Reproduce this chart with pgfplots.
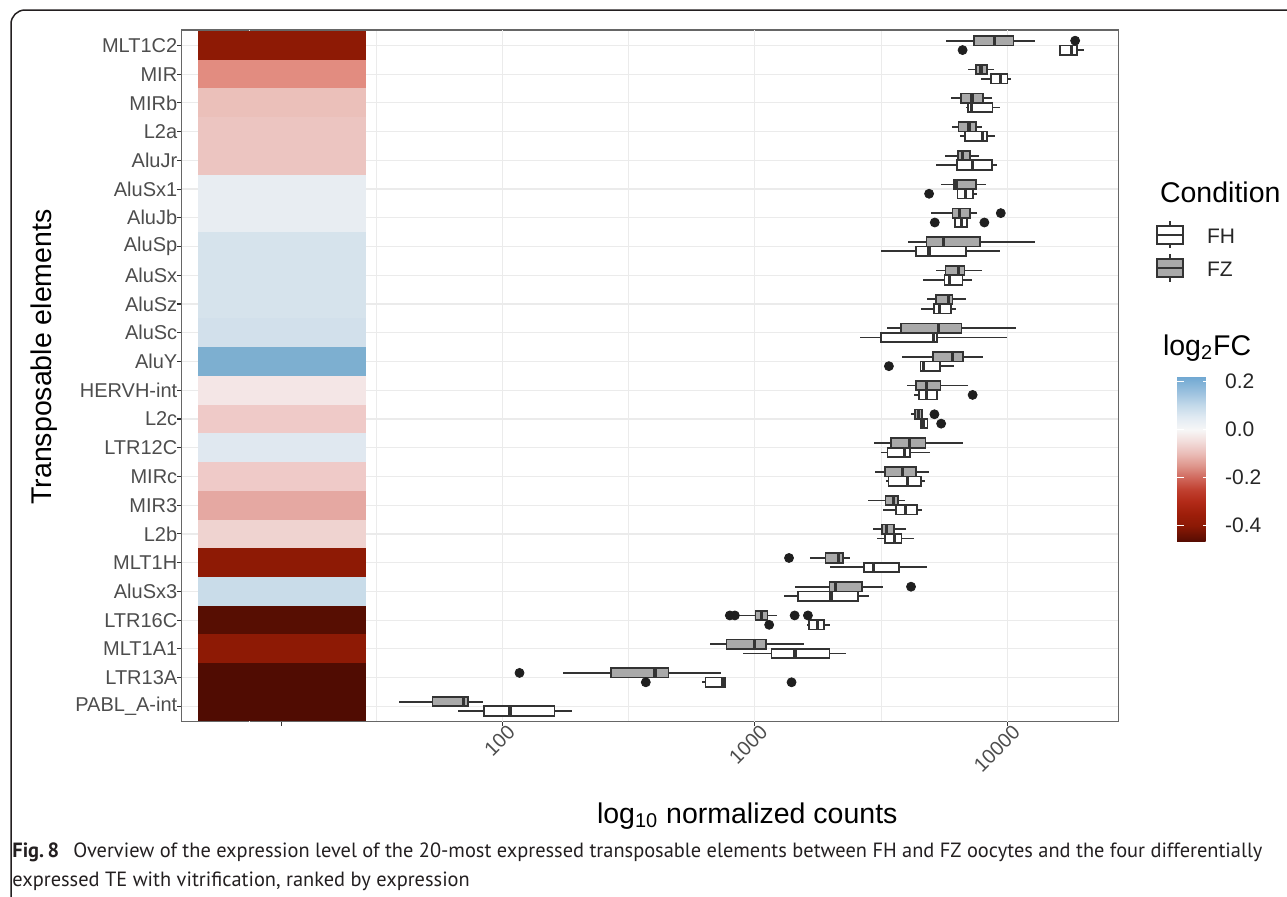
\documentclass[border=0pt]{standalone}
\usepackage{pgfplots}
\pgfplotsset{compat=1.18}
\usepgfplotslibrary{statistics}
\usepackage{fontspec}
\setmainfont{Liberation Sans}
\newfontfamily\capfont{PT Sans}
\definecolor{gridmaj}{HTML}{EBEBEB}
\definecolor{ticklab}{HTML}{4D4D4D}
\definecolor{boxline}{HTML}{333333}
\definecolor{boxfill}{HTML}{A9A9A9}
\definecolor{ptc}{HTML}{1F1F1F}
\definecolor{capc}{HTML}{231F20}
% heatmap tile colours (log2FC)
\definecolor{c01}{RGB}{80,12,2}
\definecolor{c02}{RGB}{80,12,2}
\definecolor{c03}{RGB}{142,26,5}
\definecolor{c04}{RGB}{87,14,2}
\definecolor{c05}{RGB}{201,220,233}
\definecolor{c06}{RGB}{142,26,5}
\definecolor{c07}{RGB}{239,211,208}
\definecolor{c08}{RGB}{229,168,162}
\definecolor{c09}{RGB}{239,202,200}
\definecolor{c10}{RGB}{224,232,240}
\definecolor{c11}{RGB}{239,202,200}
\definecolor{c12}{RGB}{244,230,230}
\definecolor{c13}{RGB}{125,175,208}
\definecolor{c14}{RGB}{210,224,235}
\definecolor{c15}{RGB}{214,227,236}
\definecolor{c16}{RGB}{214,227,236}
\definecolor{c17}{RGB}{214,227,236}
\definecolor{c18}{RGB}{232,237,242}
\definecolor{c19}{RGB}{232,237,242}
\definecolor{c20}{RGB}{236,197,193}
\definecolor{c21}{RGB}{236,197,193}
\definecolor{c22}{RGB}{235,192,186}
\definecolor{c23}{RGB}{226,140,128}
\definecolor{c24}{RGB}{142,26,5}
\newcommand{\tile}[3]{\addplot[draw=none, fill=#3] coordinates {(6.24,#1) (28.87,#1) (28.87,#2) (6.24,#2)};}
\newcommand{\bx}[7]{\addplot[boxplot prepared={draw position=#1, lower whisker=#2, lower quartile=#3, median=#4, upper quartile=#5, upper whisker=#6}, fill=#7, draw=boxline, line width=0.85pt, solid] coordinates {};}
\begin{document}
\begin{tikzpicture}[x=0.5pt,y=-0.5pt]
\path[use as bounding box] (0,0) rectangle (1287,896);
\draw[line width=0.75pt, color=capc, rounded corners=7pt] (11,905) -- (11,10) -- (1295,10);
\coordinate (axSW) at (181.7,721.7);
\coordinate (cbNW) at (1160,376.7);
\begin{axis}[
  at={(axSW)}, anchor=south west, scale only axis,
  width=468.3pt, height=345.85pt,
  xmode=log,
  xmin=5.381, xmax=27462, ymin=0.465, ymax=24.535,
  axis line style={draw=black!60, line width=0.6pt},
  xtick={13.4,100,1000,10000}, xticklabels={,100,1000,10000},
  minor xtick={31.62,316.2,3162},
  extra x ticks={10,100,1000,10000}, extra x tick labels={},
  extra x tick style={major tick length=0pt, grid=major},
  xmajorgrids=false, xminorgrids=true,
  ytick={1,...,24},
  yticklabels={PABL\_A-int,LTR13A,MLT1A1,LTR16C,AluSx3,MLT1H,L2b,MIR3,MIRc,LTR12C,L2c,HERVH-int,AluY,AluSc,AluSz,AluSx,AluSp,AluJb,AluSx1,AluJr,L2a,MIRb,MIR,MLT1C2},
  ymajorgrids=true,
  major grid style={gridmaj, line width=0.6pt},
  minor grid style={gridmaj, line width=0.35pt},
  tick align=outside, major tick length=2.2pt, minor tick length=0pt,
  tick style={boxline, line width=0.55pt},
  tick pos=left,
  ticklabel style={font=\fontsize{10}{12}\selectfont, text=ticklab},
  yticklabel style={xshift=3.5pt},
  xticklabel style={xshift=2pt, yshift=6pt, rotate=45, anchor=north east},
  boxplot/draw direction=x,
  boxplot/box extend=0.326,
  boxplot/whisker extend=0,
  boxplot/every median/.style={line width=1.6pt},
  point meta min=-0.467, point meta max=0.221,
  colormap={fc}{rgb255(0)=(85,12,2) rgb255(67)=(140,25,5) rgb255(117)=(158,30,10) rgb255(167)=(178,42,24) rgb255(217)=(192,64,48) rgb255(267)=(208,104,92) rgb255(317)=(222,150,140) rgb255(367)=(234,188,183) rgb255(417)=(242,220,218) rgb255(467)=(247,247,247) rgb255(517)=(226,235,243) rgb255(567)=(196,218,234) rgb255(617)=(160,196,224) rgb255(688)=(112,168,210)},
  colorbar,
  colorbar style={
    at={(cbNW)}, anchor=north west,
    scale only axis, width=16.5pt, height=82.5pt,
    ytick={-0.4,-0.2,0,0.2}, yticklabels={-0.4,-0.2,0.0,0.2},
    yticklabel pos=right,
    axis line style={draw=none},
    tick align=inside, major tick length=3.3pt,
    tick style={white, line width=0.5pt},
    yticklabel style={font=\fontsize{10.5}{12}\selectfont, text=black!85, xshift=4pt},
  },
]
% heatmap column (log2FC tiles)
\tile{0.5}{1.5}{c01}
\tile{1.5}{2.5}{c02}
\tile{2.5}{3.5}{c03}
\tile{3.5}{4.5}{c04}
\tile{4.5}{5.5}{c05}
\tile{5.5}{6.5}{c06}
\tile{6.5}{7.5}{c07}
\tile{7.5}{8.5}{c08}
\tile{8.5}{9.5}{c09}
\tile{9.5}{10.5}{c10}
\tile{10.5}{11.5}{c11}
\tile{11.5}{12.5}{c12}
\tile{12.5}{13.5}{c13}
\tile{13.5}{14.5}{c14}
\tile{14.5}{15.5}{c15}
\tile{15.5}{16.5}{c16}
\tile{16.5}{17.5}{c17}
\tile{17.5}{18.5}{c18}
\tile{18.5}{19.5}{c19}
\tile{19.5}{20.5}{c20}
\tile{20.5}{21.5}{c21}
\tile{21.5}{22.5}{c22}
\tile{22.5}{23.5}{c23}
\tile{23.5}{24.5}{c24}
% boxplots: FZ (grey, above), FH (white, below)
\bx{24.163}{5735}{7391}{8878}{10566}{12805}{boxfill}
\bx{23.837}{16006}{16150}{17865}{18876}{20127}{white}
\bx{23.163}{6997}{7482}{7857}{8275}{8878}{boxfill}
\bx{22.837}{7857}{8584}{9350}{10000}{10342}{white}
\bx{22.163}{5969}{6561}{7235}{7979}{8717}{boxfill}
\bx{21.837}{6846}{6997}{7213}{8717}{9378}{white}
\bx{21.163}{6025}{6403}{7040}{7505}{7929}{boxfill}
\bx{20.837}{6481}{6806}{7979}{8302}{8906}{white}
\bx{20.163}{5682}{6383}{6643}{7103}{7738}{boxfill}
\bx{19.837}{5202}{6326}{7279}{8663}{9125}{white}
\bx{19.163}{5463}{6153}{6286}{7505}{8225}{boxfill}
\bx{18.837}{6300}{6345}{6827}{7323}{7551}{white}
\bx{18.163}{5000}{6060}{6461}{7103}{7597}{boxfill}
\bx{17.837}{6211}{6211}{6561}{6910}{6910}{white}
\bx{17.163}{4037}{4775}{5598}{7761}{12884}{boxfill}
\bx{16.837}{3162}{4330}{4894}{6869}{9350}{white}
\bx{16.163}{5234}{5682}{6403}{6764}{7929}{boxfill}
\bx{15.837}{4633}{5631}{5878}{6643}{7213}{white}
\bx{15.163}{4820}{5218}{5825}{6060}{6827}{boxfill}
\bx{14.837}{4535}{5123}{5397}{5987}{6248}{white}
\bx{14.163}{3331}{3798}{5315}{6581}{10760}{boxfill}
\bx{13.837}{2601}{3153}{5077}{5251}{9938}{white}
\bx{13.163}{3822}{5061}{6060}{6664}{7979}{boxfill}
\bx{12.837}{4521}{4521}{4661}{5413}{6115}{white}
\bx{12.163}{4012}{4357}{4775}{5429}{6997}{boxfill}
\bx{11.837}{4266}{4465}{4775}{5266}{5266}{white}
\bx{11.163}{4138}{4305}{4451}{4589}{4589}{boxfill}
\bx{10.837}{4535}{4549}{4661}{4820}{4820}{white}
\bx{10.163}{2966}{3455}{4100}{4733}{6664}{boxfill}
\bx{9.837}{3143}{3352}{3916}{4100}{4939}{white}
\bx{9.163}{2993}{3280}{3833}{4330}{4894}{boxfill}
\bx{8.837}{3300}{3382}{4012}{4535}{4704}{white}
\bx{8.163}{2815}{3290}{3551}{3695}{3928}{boxfill}
\bx{7.837}{3221}{3628}{3953}{4384}{4575}{white}
\bx{7.163}{2930}{3182}{3331}{3562}{3977}{boxfill}
\bx{6.837}{3040}{3280}{3573}{3810}{4252}{white}
\bx{6.163}{1651}{1905}{2146}{2226}{2381}{boxfill}
\bx{5.837}{1988}{2698}{2948}{3718}{4805}{white}
\bx{5.163}{1441}{1974}{2084}{2654}{3211}{boxfill}
\bx{4.837}{1305}{1481}{2003}{2559}{2819}{white}
\bx{4.163}{859}{1006}{1062}{1121}{1221}{boxfill}
\bx{3.837}{1612}{1636}{1765}{1875}{1980}{white}
\bx{3.163}{663}{772}{1000}{1105}{1564}{boxfill}
\bx{2.837}{894}{1163}{1441}{1974}{2302}{white}
\bx{2.163}{174}{269}{402}{455}{733}{boxfill}
\bx{1.837}{615}{638}{743}{761}{761}{white}
\bx{1.163}{39.1}{53}{70.1}{73.3}{83.6}{boxfill}
\bx{0.837}{66.6}{84.9}{107.2}{161}{189}{white}
% outliers
\addplot[only marks, mark=*, mark size=2.25pt, color=ptc] coordinates {
(18532,24.163) (9408,18.163) (5138,11.163) (1365,6.163) (4151,5.163)
(796,4.163) (833,4.163) (1437,4.163) (1622,4.163) (117,2.163)
(6643,23.837) (4894,18.837) (5154,17.837) (8101,17.837) (3393,12.837)
(7279,11.837) (5463,10.837) (1139,3.837) (370,1.837) (1397,1.837)};
\end{axis}
% axis titles
\node[rotate=90, font=\fontsize{14.25}{16}\selectfont] at (44,357) {Transposable elements};
\node[anchor=base west, font=\fontsize{14.25}{16}\selectfont] at (590,823) {log\textsubscript{10} normalized counts};
% legend: Condition
\node[anchor=base west, font=\fontsize{14.25}{16}\selectfont] at (1153,202) {Condition};
\draw[boxline, line width=0.8pt] (1170,221) -- (1170,248);
\filldraw[draw=boxline, fill=white, line width=0.8pt] (1157,226) rectangle (1183,244);
\draw[boxline, line width=1.4pt] (1157,235) -- (1183,235);
\draw[boxline, line width=0.8pt] (1170,254) -- (1170,282);
\filldraw[draw=boxline, fill=boxfill, line width=0.8pt] (1157,259) rectangle (1183,277);
\draw[boxline, line width=1.4pt] (1157,268) -- (1183,268);
\node[anchor=west, font=\fontsize{10.5}{12}\selectfont, text=black!85] at (1200,236) {FH};
\node[anchor=west, font=\fontsize{10.5}{12}\selectfont, text=black!85] at (1200,269) {FZ};
\node[anchor=base west, font=\fontsize{14.25}{16}\selectfont] at (1156,355) {log\textsubscript{2}FC};
% caption (two lines, scaled together)
\node[anchor=base west, inner sep=0pt, text=capc] at (12,857) {\resizebox{625pt}{\height}{\capfont\fontsize{10.3}{14.5}\selectfont\begin{tabular}[t]{@{}l@{}}\textbf{Fig.\,8}\hspace{0.7em}Overview of the expression level of the 20-most expressed transposable elements between FH and FZ oocytes and the four differentially\\ expressed TE with vitrification, ranked by expression\end{tabular}}};
\end{tikzpicture}
\end{document}
